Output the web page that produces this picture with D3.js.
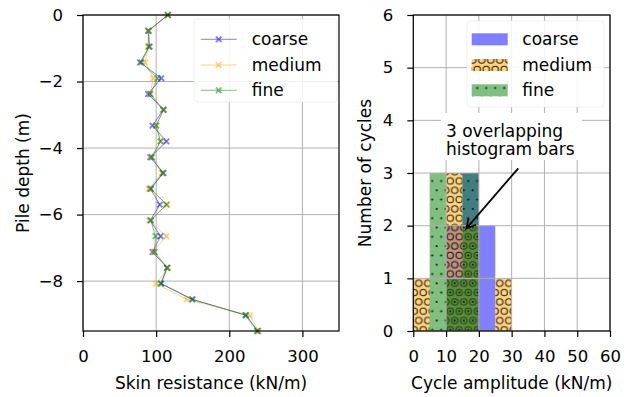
<!DOCTYPE html>
<html>
<head>
<meta charset="utf-8">
<script src="https://cdn.jsdelivr.net/npm/d3@7"></script>
<style>
body { margin: 0; background: #fff; }
svg { font-family: "DejaVu Sans", sans-serif; }
</style>
</head>
<body>
<svg id="chart" width="628" height="397"></svg>
<script>
// left panel: skin resistance along the pile
const depths = [0, -0.475, -0.95, -1.425, -1.9, -2.375, -2.85, -3.325, -3.8, -4.275, -4.75,
                -5.225, -5.7, -6.175, -6.65, -7.125, -7.6, -8.075, -8.55, -9.025, -9.5];
const coarseRes = [116, 89, 91, 78, 107, 89, 110, 95, 114, 92, 110, 92, 105, 92, 106, 95, 115, 107, 149, 223, 239];
const mediumRes = [116, 89, 89, 85, 96, 92, 110, 100, 106, 94, 108, 90, 115, 91, 114, 96, 116, 100, 142, 228, 240];
const fineRes   = [116, 90, 90, 80, 102, 92, 110, 100, 106, 94, 109, 93, 114, 93, 99, 98, 115, 106, 150, 222, 238];
const seriesNames = ["coarse", "medium", "fine"];

// right panel: histogram of cycle amplitudes
const binEdges = [0, 5, 10, 15, 20, 25, 30];
const coarseCounts = [0, 0, 2, 3, 2, 0];
const mediumCounts = [1, 0, 3, 2, 0, 1];
const fineCounts   = [0, 3, 1, 3, 0, 0];

const depthTicks = [0, -2, -4, -6, -8];
const resTicks = [0, 100, 200, 300];
const cycleTicks = [0, 1, 2, 3, 4, 5, 6];
const ampTicks = [0, 10, 20, 30, 40, 50, 60];
const annotationLines = ["3 overlapping", "histogram bars"];

const colors = { coarse: "#0000ff", medium: "#ffa500", fine: "#008000" };
const hatches = { coarse: null, medium: "url(#hatchO)", fine: "url(#hatchDot)" };

const svg = d3.select("#chart");
const defs = svg.append("defs");

// matplotlib-like staggered hatch tiles
const SX = 9, SY = 9.3;
function makePattern(id, big) {
    const p = defs.append("pattern")
        .attr("id", id)
        .attr("patternUnits", "userSpaceOnUse")
        .attr("x", 436.7).attr("y", 283.3)
        .attr("width", SX).attr("height", 2 * SY);
    const pts = [[0, 0], [SX, 0], [0, 2 * SY], [SX, 2 * SY], [SX / 2, SY]];
    pts.forEach(([cx, cy]) => {
        const c = p.append("circle").attr("cx", cx).attr("cy", cy);
        if (big) c.attr("r", 3.2).attr("fill", "none").attr("stroke", "#000").attr("stroke-width", 1.1).attr("stroke-opacity", 0.85);
        else c.attr("r", 1.05).attr("fill", "#000").attr("fill-opacity", 0.9);
    });
}
makePattern("hatchO", true);
makePattern("hatchDot", false);

const fmt = d3.format("d");
const tickFont = "16.5px";
const labelFont = "17px";

function styleAxis(g) {
    g.select(".domain").remove();
    g.selectAll(".tick line").attr("stroke", "#000").attr("stroke-width", 1.2);
    g.selectAll(".tick text").attr("fill", "#000").style("font-size", tickFont);
    g.attr("font-family", null);
}

function drawGrid(g, xs, ys, xTicks, yTicks) {
    g.selectAll(".vg").data(xTicks).join("line")
        .attr("x1", d => xs(d)).attr("x2", d => xs(d))
        .attr("y1", ys.range()[0]).attr("y2", ys.range()[1])
        .attr("stroke", "#b0b0b0").attr("stroke-width", 1);
    g.selectAll(".hg").data(yTicks).join("line")
        .attr("x1", xs.range()[0]).attr("x2", xs.range()[1])
        .attr("y1", d => ys(d)).attr("y2", d => ys(d))
        .attr("stroke", "#b0b0b0").attr("stroke-width", 1);
}

function drawFrame(xs, ys) {
    const [x0, x1] = xs.range(), [y1, y0] = ys.range();
    svg.append("rect").attr("x", x0).attr("y", y0).attr("width", x1 - x0).attr("height", y1 - y0)
        .attr("fill", "none").attr("stroke", "#000").attr("stroke-width", 1.2);
}

function xMarker(g, x, y, color) {
    const s = 2.8;
    g.append("path")
        .attr("d", `M${x - s},${y - s}L${x + s},${y + s}M${x - s},${y + s}L${x + s},${y - s}`)
        .attr("stroke", color).attr("stroke-width", 1.8).attr("stroke-opacity", 0.5).attr("fill", "none");
}

// ---------- left panel ----------
const xL = d3.scaleLinear().domain([0, 350]).range([83, 339]);
const yL = d3.scaleLinear().domain([-9.5, 0]).range([331, 15]);

drawGrid(svg.append("g"), xL, yL, resTicks, depthTicks);

const profiles = [coarseRes, mediumRes, fineRes];
const lineL = d3.line().x(d => xL(d[0])).y(d => yL(d[1]));
const dataLayer = svg.append("g");
profiles.forEach((vals, i) => {
    const name = seriesNames[i];
    const pts = vals.map((v, j) => [v, depths[j]]);
    dataLayer.append("path").attr("d", lineL(pts))
        .attr("fill", "none").attr("stroke", colors[name]).attr("stroke-width", 1).attr("stroke-opacity", 0.5);
    pts.forEach(p => xMarker(dataLayer, xL(p[0]), yL(p[1]), colors[name]));
});

svg.append("g").attr("transform", "translate(0,331)")
    .call(d3.axisBottom(xL).tickValues(resTicks).tickSize(6).tickPadding(13).tickFormat(fmt))
    .call(styleAxis);
svg.append("g").attr("transform", "translate(83,0)")
    .call(d3.axisLeft(yL).tickValues(depthTicks).tickSize(6).tickPadding(14).tickFormat(fmt))
    .call(styleAxis);
drawFrame(xL, yL);

svg.append("text").attr("x", 211).attr("y", 389).attr("text-anchor", "middle")
    .style("font-size", labelFont).text("Skin resistance (kN/m)");
svg.append("text").attr("transform", "translate(29,173) rotate(-90)").attr("text-anchor", "middle")
    .style("font-size", labelFont).text("Pile depth (m)");

// left legend
const legRows = [39.3, 65, 90.3];
const legL = svg.append("g");
legL.append("rect").attr("x", 194).attr("y", 19).attr("width", 143).attr("height", 83).attr("rx", 3)
    .attr("fill", "#fff").attr("fill-opacity", 0.85).attr("stroke", "#e6e6e6").attr("stroke-opacity", 0.6);
seriesNames.forEach((name, i) => {
    legL.append("line").attr("x1", 200.7).attr("x2", 236.7).attr("y1", legRows[i]).attr("y2", legRows[i])
        .attr("stroke", colors[name]).attr("stroke-width", 1).attr("stroke-opacity", 0.5);
    xMarker(legL, 218.7, legRows[i], colors[name]);
    legL.append("text").attr("x", 251.7).attr("y", legRows[i] + 6).style("font-size", labelFont).text(name);
});

// ---------- right panel ----------
const xR = d3.scaleLinear().domain([0, 60]).range([413.3, 610]);
const yR = d3.scaleLinear().domain([0, 6]).range([331, 15]);

const counts = [coarseCounts, mediumCounts, fineCounts];
const barLayer = svg.append("g");
counts.forEach((cs, i) => {
    const name = seriesNames[i];
    cs.forEach((c, j) => {
        if (!c) return;
        const x0 = xR(binEdges[j]), x1 = xR(binEdges[j + 1]);
        barLayer.append("rect").attr("x", x0).attr("y", yR(c)).attr("width", x1 - x0).attr("height", yR(0) - yR(c))
            .attr("fill", colors[name]).attr("fill-opacity", 0.5);
        if (hatches[name]) {
            barLayer.append("rect").attr("x", x0).attr("y", yR(c)).attr("width", x1 - x0).attr("height", yR(0) - yR(c))
                .attr("fill", hatches[name]);
        }
    });
});

drawGrid(svg.append("g"), xR, yR, ampTicks, cycleTicks);

svg.append("g").attr("transform", "translate(0,331)")
    .call(d3.axisBottom(xR).tickValues(ampTicks).tickSize(6).tickPadding(13).tickFormat(fmt))
    .call(styleAxis);
svg.append("g").attr("transform", "translate(413.3,0)")
    .call(d3.axisLeft(yR).tickValues(cycleTicks).tickSize(6).tickPadding(14).tickFormat(fmt))
    .call(styleAxis);
drawFrame(xR, yR);

svg.append("text").attr("x", 511.7).attr("y", 389).attr("text-anchor", "middle")
    .style("font-size", labelFont).text("Cycle amplitude (kN/m)");
svg.append("text").attr("transform", "translate(371,173) rotate(-90)").attr("text-anchor", "middle")
    .style("font-size", labelFont).text("Number of cycles");

// right legend
const legR = svg.append("g");
legR.append("rect").attr("x", 467).attr("y", 21).attr("width", 137).attr("height", 86).attr("rx", 3)
    .attr("fill", "#fff").attr("fill-opacity", 0.85).attr("stroke", "#e6e6e6").attr("stroke-opacity", 0.6);
seriesNames.forEach((name, i) => {
    legR.append("rect").attr("x", 471.7).attr("y", legRows[i] - 6).attr("width", 36).attr("height", 12)
        .attr("fill", colors[name]).attr("fill-opacity", 0.5);
    if (hatches[name]) {
        legR.append("rect").attr("x", 471.7).attr("y", legRows[i] - 6).attr("width", 36).attr("height", 12)
            .attr("fill", hatches[name]);
    }
    legR.append("text").attr("x", 522.3).attr("y", legRows[i] + 6).style("font-size", labelFont).text(name);
});

// annotation
const ann = svg.append("g");
ann.append("rect").attr("x", 441).attr("y", 113).attr("width", 141).attr("height", 47).attr("fill", "#fff");
annotationLines.forEach((t, i) => {
    ann.append("text").attr("x", 446).attr("y", 136.5 + i * 18.5).style("font-size", labelFont).text(t);
});
const tail = [518.3, 168.3], tip = [xR(16.2), yR(1.95)];
const dx = tip[0] - tail[0], dy = tip[1] - tail[1], len = Math.hypot(dx, dy);
const ux = dx / len, uy = dy / len, hl = 9, hw = 5;
ann.append("path")
    .attr("d", `M${tail[0]},${tail[1]}L${tip[0]},${tip[1]}` +
        `M${tip[0] - hl * ux - hw * uy},${tip[1] - hl * uy + hw * ux}L${tip[0]},${tip[1]}` +
        `L${tip[0] - hl * ux + hw * uy},${tip[1] - hl * uy - hw * ux}`)
    .attr("fill", "none").attr("stroke", "#000").attr("stroke-width", 1.8);
</script>
</body>
</html>
